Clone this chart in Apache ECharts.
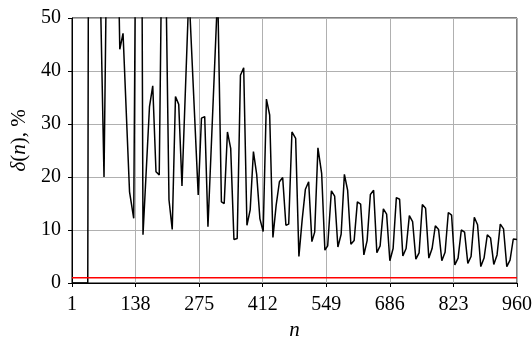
<!DOCTYPE html>
<html>
<head>
<meta charset="utf-8">
<script src="https://cdn.jsdelivr.net/npm/echarts@6/dist/echarts.min.js"></script>
<style>
  html, body { margin: 0; padding: 0; background: #fff; }
  #chart { width: 532px; height: 338px; }
</style>
</head>
<body>
<div id="chart"></div>
<script>
// n values and relative deviation delta(n) in %
const nValues = [
  1, 35, 37, 50, 61, 70, 76, 86, 97, 104, 111, 125, 134, 140, 150, 154,
  168, 175, 182, 189, 196, 203, 210, 217, 224, 231, 238, 253, 273, 280, 287, 294,
  315, 323, 329, 336, 343, 350, 357, 364, 371, 378, 385, 392, 399, 406, 413, 420,
  427, 434, 441, 448, 455, 462, 468, 475, 483, 490, 497, 504, 511, 518, 524, 531,
  539, 546, 552, 560, 567, 574, 581, 588, 595, 602, 609, 616, 623, 630, 637, 644,
  651, 658, 665, 672, 679, 686, 693, 700, 707, 714, 721, 728, 735, 742, 749, 756,
  763, 770, 777, 784, 791, 798, 805, 812, 819, 826, 833, 840, 847, 854, 861, 868,
  875, 882, 889, 896, 903, 910, 917, 924, 931, 938, 945, 952, 960
];
const deltaValues = [
  0, 0, 90, 100, 60, 20, 65, 95, 80, 44.1, 47.1, 17.2, 12.2, 90, 100, 9.1,
  33.3, 37.2, 21.0, 20.4, 75, 60, 15.7, 10.1, 35.2, 33.7, 18.3, 55, 16.6, 31.1, 31.4, 10.6,
  55, 15.3, 15.0, 28.5, 25.4, 8.2, 8.4, 39.2, 40.6, 10.9, 13.8, 24.8, 20.5, 12.1, 9.7, 34.7,
  31.7, 8.6, 14.7, 19.1, 19.9, 10.9, 11.1, 28.5, 27.3, 5.0, 11.9, 17.7, 19.1, 7.8, 9.6, 25.5,
  20.7, 6.2, 7.0, 17.4, 16.4, 6.8, 9.2, 20.5, 17.5, 7.3, 8.0, 15.3, 14.9, 5.3, 8.0, 16.7,
  17.5, 5.7, 7.0, 14.0, 13.0, 4.2, 6.5, 16.1, 15.8, 5.1, 6.5, 12.7, 11.6, 4.5, 5.7, 14.8,
  14.1, 4.7, 6.5, 10.8, 10.1, 4.2, 5.8, 13.3, 12.8, 3.4, 4.7, 10.0, 9.6, 3.7, 5.0, 12.4,
  11.0, 3.1, 4.7, 9.1, 8.5, 3.5, 5.3, 11.1, 10.2, 3.1, 4.3, 8.3, 8.2
];
const refLevel = 1;
const xTicks = [1, 138, 275, 412, 549, 686, 823, 960];

const chart = echarts.init(document.getElementById('chart'));
const font = 'Liberation Serif';

const option = {
  animation: false,
  grid: {
    left: 72,
    right: 15,
    top: 18,
    bottom: 55,
    containLabel: false,
    outerBoundsMode: 'none',
    show: true,
    borderColor: '#000',
    borderWidth: 1,
  },
  xAxis: {
    type: 'value',
    min: xTicks[0],
    max: xTicks[xTicks.length - 1],
    interval: xTicks[1] - xTicks[0],
    name: 'n',
    nameLocation: 'middle',
    nameGap: 35,
    nameTextStyle: { fontFamily: font, fontSize: 21, fontStyle: 'italic', color: '#000' },
    axisLine: { lineStyle: { color: '#000', width: 1 } },
    axisTick: { show: true, inside: false, length: 4, lineStyle: { color: '#000' } },
    axisLabel: { fontFamily: font, fontSize: 20, color: '#000', margin: 12 },
    splitLine: { show: true, lineStyle: { color: '#b0b0b0', width: 1 } },
  },
  yAxis: {
    type: 'value',
    min: 0,
    max: 50,
    interval: 10,
    name: '{i|δ}({i|n}), %',
    nameLocation: 'middle',
    nameRotate: 90,
    nameGap: 40,
    nameTextStyle: {
      fontFamily: font, fontSize: 21, color: '#000',
      padding: [0, 0, 0, 20],
      rich: { i: { fontFamily: font, fontSize: 21, fontStyle: 'italic', color: '#000' } },
    },
    axisLine: { show: true, lineStyle: { color: '#000', width: 1 } },
    axisTick: { show: true, inside: false, length: 4, lineStyle: { color: '#000' } },
    axisLabel: { fontFamily: font, fontSize: 20, color: '#000', margin: 11 },
    splitLine: { show: true, lineStyle: { color: '#b0b0b0', width: 1 } },
  },
  series: [
    {
      name: 'delta',
      type: 'line',
      data: nValues.map((n, i) => [n, deltaValues[i]]),
      showSymbol: false,
      clip: true,
      lineStyle: { color: '#000', width: 1.5 },
      z: 3,
    },
    {
      name: 'ref',
      type: 'line',
      data: [[xTicks[0], refLevel], [xTicks[xTicks.length - 1], refLevel]],
      showSymbol: false,
      clip: true,
      lineStyle: { color: '#ff0000', width: 1.5 },
      z: 4,
    },
  ],
};

chart.setOption(option);
</script>
</body>
</html>
